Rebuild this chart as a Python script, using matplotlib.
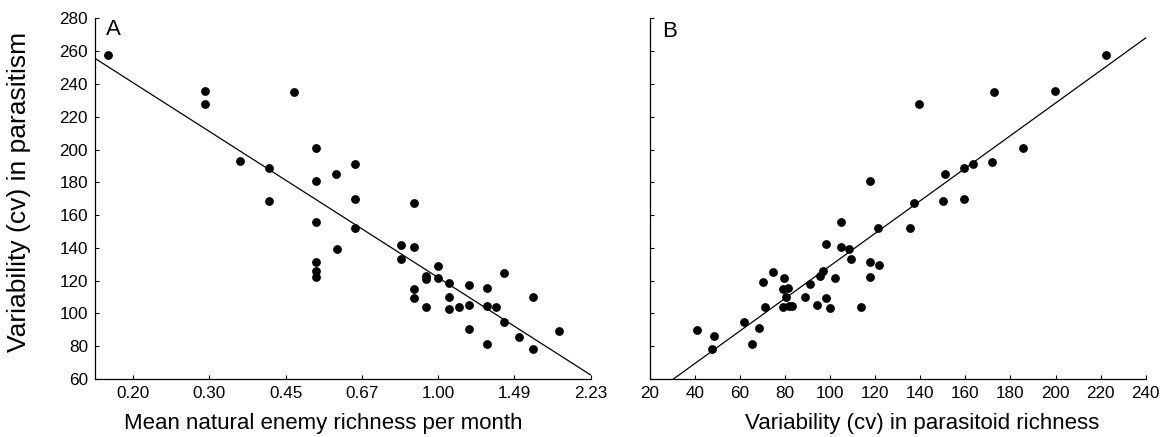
import numpy as np
import matplotlib
matplotlib.use('Agg')
import matplotlib.pyplot as plt

plt.rcParams['font.family'] = ['Liberation Sans', 'DejaVu Sans']

# panel A: mean natural enemy richness per month vs variability in parasitism
richness = [0.177, 0.294, 0.294, 0.469, 0.353, 0.412, 0.412, 0.527, 0.527, 0.585,
            0.645, 0.645, 0.527, 0.645, 0.587, 0.527, 0.527, 0.527, 0.881, 0.821,
            0.881, 0.821, 0.997, 0.938, 0.938, 0.997, 1.058, 0.881, 0.881, 0.938,
            1.058, 1.058, 1.115, 1.177, 1.177, 1.177, 1.293, 1.293, 1.293, 1.356,
            1.413, 1.413, 1.525, 1.647, 1.647, 1.883]
parasitism_a = [258, 236, 227.6, 235.2, 192.9, 188.6, 168.8, 201, 181, 185.3,
                191.4, 170, 155.8, 152.4, 139.4, 131.2, 126.1, 122.3, 167.4, 142,
                140.6, 133.4, 129, 122.9, 121.1, 121.5, 118.8, 114.8, 109.3, 104,
                110, 102.9, 104, 117.4, 105, 90.8, 115.6, 104.4, 81.2, 104,
                124.9, 94.8, 85.9, 110, 78.4, 89.3]

# panel B: variability in parasitoid richness vs variability in parasitism
parasitoid_cv = [222.5, 172.9, 199.8, 139.6, 185.7, 172, 163.4, 159.4, 151.1, 117.8,
                 159.4, 150.1, 137.1, 121.2, 135.6, 104.9, 98.4, 104.9, 108.5, 109.5,
                 117.8, 121.9, 117.8, 74.9, 96.9, 95.5, 102.4, 79.5, 70.5, 91.3,
                 79.1, 81.3, 80.5, 88.9, 98.4, 94.4, 99.9, 113.6, 71.1, 79.3,
                 81.7, 83.3, 61.8, 68.7, 41.2, 48.7, 47.8, 65.6]
parasitism_b = [257.7, 235.2, 236, 227.6, 201, 192.6, 191.4, 188.6, 185.3, 181,
                170, 168.8, 167.6, 152.4, 152.4, 155.8, 142.2, 140.8, 139.6, 133.3,
                131.2, 129.4, 122.3, 125.3, 125.7, 123, 121.7, 121.7, 119.2, 117.8,
                114.8, 115.6, 110.3, 110, 109.3, 105.2, 103.2, 104, 104, 104.2,
                104.6, 104.6, 94.8, 91, 89.8, 86.3, 78.5, 81.4]

# fitted lines (intercept, slope)
fit_a = (121.9, -74.3)   # y = a + b*ln(x)
fit_b = (29.6, 0.994)    # y = a + b*x

fig = plt.figure(figsize=(11.63, 4.37), dpi=100)
axA = fig.add_axes([0.0817, 0.1327, 0.4262, 0.825])
axB = fig.add_axes([0.5585, 0.1327, 0.4267, 0.825])

for ax in (axA, axB):
    for s in ('top', 'right'):
        ax.spines[s].set_visible(False)
    ax.spines['left'].set_linewidth(0.9)
    ax.spines['bottom'].set_linewidth(0.9)
    ax.tick_params(direction='in', length=3, width=0.8, labelsize=12.3, pad=5)
    ax.set_ylim(60, 280)
    ax.set_yticks(np.arange(60, 281, 20))

# panel A
axA.scatter(richness, parasitism_a, s=40, color='black', zorder=3, linewidths=0)
axA.set_xscale('log')
axA.set_xlim(np.exp(-1.8), np.exp(0.8))
xt = np.exp(np.arange(-1.6, 0.81, 0.4))
axA.set_xticks(xt)
axA.set_xticklabels(['%.2f' % v for v in xt])
axA.minorticks_off()
lx = np.exp(np.linspace(-1.8, 0.8, 50))
axA.plot(lx, fit_a[0] + fit_a[1] * np.log(lx), color='black', lw=0.9)
axA.set_xlabel('Mean natural enemy richness per month', fontsize=16)
axA.xaxis.set_label_coords(0.46, -0.093)
axA.set_ylabel('Variability (cv) in parasitism', fontsize=19)
axA.yaxis.set_label_coords(-0.13, 0.52)
axA.text(0.022, 0.998, 'A', transform=axA.transAxes, fontsize=16, va='top')

# panel B
axB.scatter(parasitoid_cv, parasitism_b, s=40, color='black', zorder=3, linewidths=0)
axB.set_xlim(20, 240)
axB.set_xticks(np.arange(20, 241, 20))
axB.set_yticklabels([])
lx = np.linspace(20, 240, 50)
axB.plot(lx, fit_b[0] + fit_b[1] * lx, color='black', lw=0.9)
axB.set_xlabel('Variability (cv) in parasitoid richness', fontsize=16)
axB.xaxis.set_label_coords(0.55, -0.093)
axB.text(0.025, 0.993, 'B', transform=axB.transAxes, fontsize=16, va='top')

fig.savefig('out.png', dpi=100)
